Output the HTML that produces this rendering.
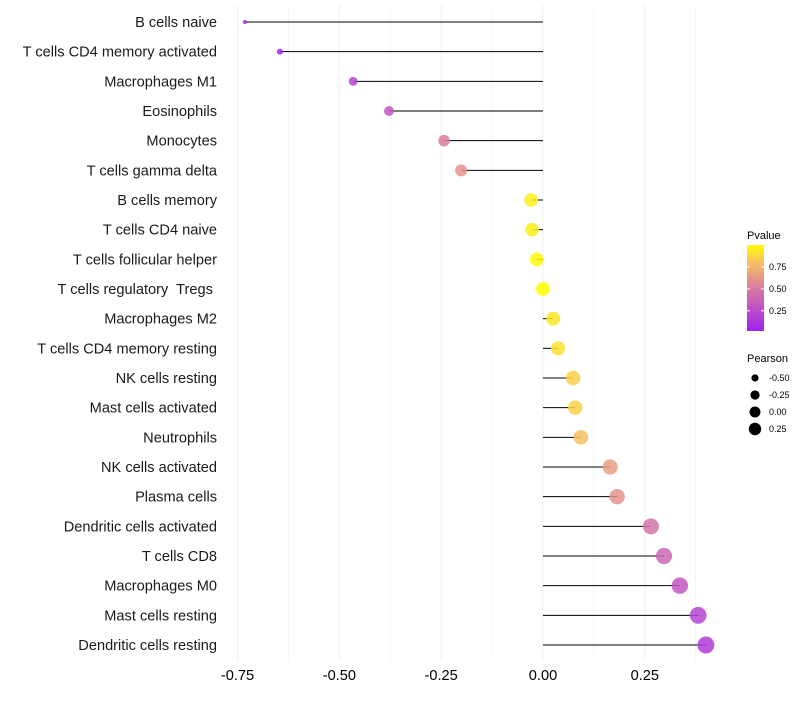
<!DOCTYPE html>
<html><head><meta charset="utf-8"><style>
body{margin:0;background:#fff;font-family:"Liberation Sans",sans-serif}
text{white-space:pre}
</style></head><body>
<svg id="c" width="800" height="700" xmlns="http://www.w3.org/2000/svg"></svg>
<script>
const cells=["B cells naive","T cells CD4 memory activated","Macrophages M1","Eosinophils","Monocytes","T cells gamma delta","B cells memory","T cells CD4 naive","T cells follicular helper","T cells regulatory  Tregs ","Macrophages M2","T cells CD4 memory resting","NK cells resting","Mast cells activated","Neutrophils","NK cells activated","Plasma cells","Dendritic cells activated","T cells CD8","Macrophages M0","Mast cells resting","Dendritic cells resting"];
const pearson=[-0.732,-0.646,-0.466,-0.378,-0.243,-0.201,-0.029,-0.027,-0.015,0,0.025,0.037,0.074,0.079,0.093,0.165,0.182,0.265,0.297,0.336,0.381,0.400];
const pvalue=[0.05,0.05,0.2,0.3,0.5,0.6,0.95,0.95,0.98,1.0,0.92,0.9,0.85,0.85,0.8,0.65,0.6,0.45,0.38,0.3,0.2,0.15];
const xTicks=[-0.75,-0.5,-0.25,0,0.25];
const xTickLabels=["-0.75","-0.50","-0.25","0.00","0.25"];
const pTicks=[0.25,0.5,0.75];
const sizeTicks=[-0.5,-0.25,0,0.25];
const svg=document.getElementById('c');const NS="http://www.w3.org/2000/svg";
function mk(t,a,p){const e=document.createElementNS(NS,t);for(const k in a)e.setAttribute(k,a[k]);(p||svg).appendChild(e);return e;}
const x=v=>543+v*407.3;
const y=i=>22+i*29.667;
const rad=v=>Math.sqrt(Math.max(1,48+60*v));
const lrad=v=>Math.sqrt(Math.max(1,30+34*v));
const stops=[[0,[160,32,240]],[0.5,[216,125,160]],[0.8,[248,192,96]],[1,[255,255,0]]];
function col(p){for(let i=1;i<stops.length;i++){if(p<=stops[i][0]){const a=stops[i-1],b=stops[i],t=(p-a[0])/(b[0]-a[0]);return 'rgb('+a[1].map((c,k)=>Math.round(c+(b[1][k]-c)*t)).join(',')+')';}}return 'rgb(255,255,0)';}
for(let v=-0.875;v<=0.4;v+=0.125){if(x(v)<225)continue;const g=mk('line',{x1:x(v),x2:x(v),y1:5,y2:660,stroke:'#f0f0f0','stroke-width':Math.abs((v*4)%1)<1e-6?1:0.6});
}
xTicks.forEach((v,i)=>{const t=mk('text',{x:x(v),y:680,'text-anchor':'middle','font-size':14.6,fill:'#000'});t.textContent=xTickLabels[i];
});
cells.forEach((c,i)=>{
const t=mk('text',{x:217,y:y(i)+5,'text-anchor':'end','font-size':14.6,fill:'#1a1a1a'});t.textContent=c;

const l=mk('line',{x1:x(0),x2:x(pearson[i]),y1:y(i),y2:y(i),stroke:'#000','stroke-width':1});

const d=mk('circle',{cx:x(pearson[i]),cy:y(i),r:rad(pearson[i]),fill:col(pvalue[i]),'fill-opacity':0.85});

});
let t=mk('text',{x:747,y:239,'font-size':11});t.textContent='Pvalue';

const defs=mk('defs',{});const lg=mk('linearGradient',{id:'g',x1:0,y1:1,x2:0,y2:0},defs);
for(let k=0;k<=10;k++)mk('stop',{offset:k/10,'stop-color':col(k/10)},lg);
const bar=mk('rect',{x:747,y:245,width:17,height:86,fill:'url(#g)'});

const py=p=>331-(p-0.02)/0.98*86;
pTicks.forEach(p=>{mk('line',{x1:747,x2:750,y1:py(p),y2:py(p),stroke:'#fff'});mk('line',{x1:761,x2:764,y1:py(p),y2:py(p),stroke:'#fff'});
const tt=mk('text',{x:769,y:py(p)+3,'font-size':9});tt.textContent=p.toFixed(2);
});
t=mk('text',{x:747,y:362,'font-size':11});t.textContent='Pearson';

sizeTicks.forEach((v,i)=>{const cy=378+i*17;
const c=mk('circle',{cx:755,cy:cy,r:lrad(v),fill:'#000'});

const tt=mk('text',{x:769,y:cy+3,'font-size':9});tt.textContent=v.toFixed(2);
});
</script>
</body></html>
